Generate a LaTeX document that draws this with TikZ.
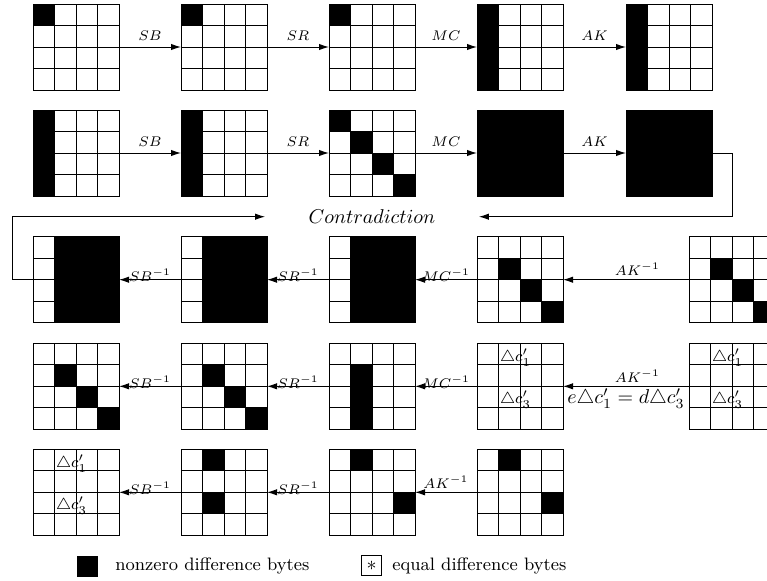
\documentclass[tikz,border=0pt]{standalone}
\usetikzlibrary{arrows.meta}
\tikzset{
  gridbox/.style={minimum size=43pt, inner sep=0pt, outer sep=0pt},
  gline/.style={line width=0.5pt},
  arr/.style={line width=0.5pt, -{Latex[length=5pt,width=3.2pt]}},
  lab/.style={font=\scriptsize, inner sep=0pt},
  fwd/.style={lab, above=3pt},
  inv/.style={lab, anchor=base, yshift=-1pt},
  invak/.style={lab, anchor=base, yshift=2pt},
  eqlab/.style={font=\normalsize, inner sep=0pt, anchor=base, yshift=-8.6pt},
  celltxt/.style={font=\footnotesize, inner sep=0pt, anchor=base west},
  legtxt/.style={font=\small, anchor=base west, inner sep=0pt},
}
\newcommand\gridlines[1]{%
  \begin{scope}[shift={(#1.north west)}]
  \foreach \i in {1,2,3} {
    \draw[gline] (\i*21.5,0) -- (\i*21.5,86);
    \draw[gline] (0,\i*21.5) -- (86,\i*21.5);}
  \end{scope}
  \draw[gline] (#1.north west) rectangle (#1.south east);}
\newcommand\blk[2]{%
  \begin{scope}[shift={(#1.north west)}]
  \foreach \r/\c in {#2} {\fill[black] (\c*21.5,\r*21.5) rectangle ++(21.5,21.5);}
  \end{scope}}
\newcommand\grid[4]{\node[gridbox] (#1) at (#2+43,#3+43) {};\blk{#1}{#4}\gridlines{#1}}
\newcommand\tgrid[3]{\node[gridbox] (#1) at (#2+43,#3+43) {};\gridlines{#1}
  \begin{scope}[shift={(#1.north west)}]
   \node[celltxt] (#1a) at (22.7,17.7) {$\triangle c'_1$};
   \node[celltxt] (#1b) at (22.7,60) {$\triangle c'_3$};
  \end{scope}}
\begin{document}
\begin{tikzpicture}[x=0.5pt,y=-0.5pt]
\useasboundingbox (0,0) rectangle (767,580);
\clip (0,0) rectangle (767,580);
% row 1
\grid{g11}{33}{4}{0/0}
\grid{g12}{181}{4}{0/0}
\grid{g13}{329}{4}{0/0}
\grid{g14}{477}{4}{0/0,1/0,2/0,3/0}
\grid{g15}{626}{4}{0/0,1/0,2/0,3/0}
% row 2
\grid{g21}{33}{110}{0/0,1/0,2/0,3/0}
\grid{g22}{181}{110}{0/0,1/0,2/0,3/0}
\grid{g23}{329}{110}{0/0,1/1,2/2,3/3}
\grid{g24}{477}{110}{0/0,0/1,0/2,0/3,1/0,1/1,1/2,1/3,2/0,2/1,2/2,2/3,3/0,3/1,3/2,3/3}
\grid{g25}{626}{110}{0/0,0/1,0/2,0/3,1/0,1/1,1/2,1/3,2/0,2/1,2/2,2/3,3/0,3/1,3/2,3/3}
% row 3
\grid{g31}{33}{236.7}{0/1,0/2,0/3,1/1,1/2,1/3,2/1,2/2,2/3,3/1,3/2,3/3}
\grid{g32}{181}{236.7}{0/1,0/2,0/3,1/1,1/2,1/3,2/1,2/2,2/3,3/1,3/2,3/3}
\grid{g33}{329}{236.7}{0/1,0/2,0/3,1/1,1/2,1/3,2/1,2/2,2/3,3/1,3/2,3/3}
\grid{g34}{477}{236.7}{1/1,2/2,3/3}
\grid{g35}{689}{236.7}{1/1,2/2,3/3}
% row 4
\grid{g41}{33}{343.3}{1/1,2/2,3/3}
\grid{g42}{181}{343.3}{1/1,2/2,3/3}
\grid{g43}{329}{343.3}{1/1,2/1,3/1}
\tgrid{g44}{477}{343.3}
\tgrid{g45}{689}{343.3}
% row 5
\tgrid{g51}{33}{449.3}
\grid{g52}{181}{449.3}{0/1,2/1}
\grid{g53}{329}{449.3}{0/1,2/3}
\grid{g54}{477}{449.3}{0/1,2/3}
% arrows row 1
\draw[arr] (g11.east) -- node[fwd]{$SB$} (g12.west);
\draw[arr] (g12.east) -- node[fwd]{$SR$} (g13.west);
\draw[arr] (g13.east) -- node[fwd]{$MC$} (g14.west);
\draw[arr] (g14.east) -- node[fwd]{$AK$} (g15.west);
% arrows row 2
\draw[arr] (g21.east) -- node[fwd]{$SB$} (g22.west);
\draw[arr] (g22.east) -- node[fwd]{$SR$} (g23.west);
\draw[arr] (g23.east) -- node[fwd]{$MC$} (g24.west);
\draw[arr] (g24.east) -- node[fwd]{$AK$} (g25.west);
% contradiction
\node[font=\normalsize, inner xsep=21.6pt, inner ysep=0pt] (contra) at (372,216.7) {$Contradiction$};
\draw[arr] (g25.east) -- ++(20,0) |- (contra.east);
\draw[arr] (g31.west) -- ++(-21,0) |- (contra.west);
% arrows row 3
\draw[arr] (g35.west) -- node[invak,pos=0.41]{$AK^{-1}$} (g34.east);
\draw[arr] (g34.west) -- node[inv]{$MC^{-1}$} (g33.east);
\draw[arr] (g33.west) -- node[inv]{$SR^{-1}$} (g32.east);
\draw[arr] (g32.west) -- node[inv]{$SB^{-1}$} (g31.east);
% arrows row 4
\draw[arr] (g45.west) -- node[invak,pos=0.41]{$AK^{-1}$} node[eqlab]{$e\triangle c'_1=d\triangle c'_3$} (g44.east);
\draw[arr] (g44.west) -- node[inv]{$MC^{-1}$} (g43.east);
\draw[arr] (g43.west) -- node[inv]{$SR^{-1}$} (g42.east);
\draw[arr] (g42.west) -- node[inv]{$SB^{-1}$} (g41.east);
% arrows row 5
\draw[arr] (g54.west) -- node[invak]{$AK^{-1}$} (g53.east);
\draw[arr] (g53.west) -- node[inv]{$SR^{-1}$} (g52.east);
\draw[arr] (g52.west) -- node[inv]{$SB^{-1}$} (g51.east);
% legend
\node[fill=black, minimum size=10.5pt, inner sep=0pt] (lgblack) at (87,566) {};
\node[legtxt] (lgt1) at (115,570) {nonzero difference bytes};
\node[draw, line width=0.5pt, inner sep=2.5pt] (lgbox) at (371.5,565.5) {$*$};
\node[legtxt] (lgt2) at (392,570) {equal difference bytes};
\end{tikzpicture}
\end{document}
